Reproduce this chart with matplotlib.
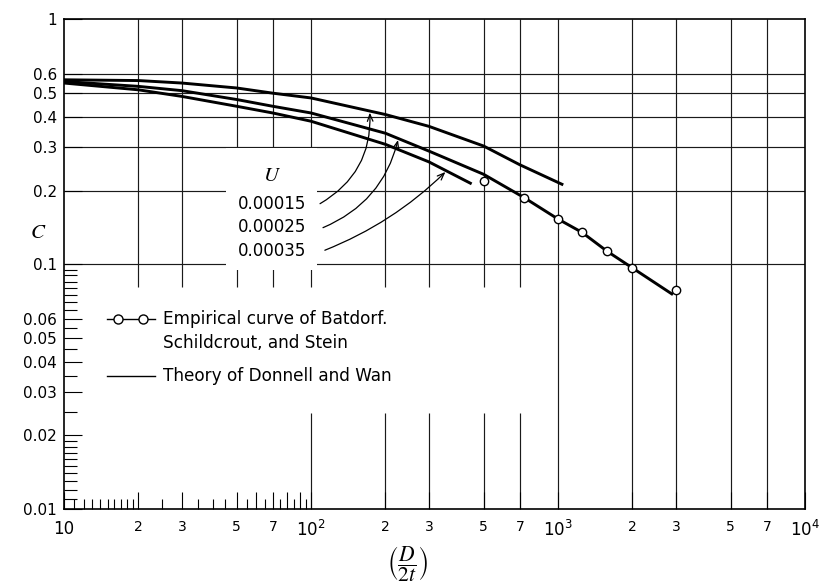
import numpy as np
import matplotlib.pyplot as plt
from matplotlib.patches import Rectangle

plt.rcParams['font.family'] = 'DejaVu Sans'
plt.rcParams['mathtext.fontset'] = 'stix'

# Donnell and Wan theory, C against D/2t for three values of U
x_u15 = [10, 20, 30, 50, 70, 100, 200, 300, 500, 700, 1050]
c_u15 = [0.567, 0.563, 0.55, 0.525, 0.50, 0.478, 0.409, 0.366, 0.304, 0.255, 0.211]
x_u25 = [10, 20, 30, 50, 70, 100, 200, 300, 500, 730]
c_u25 = [0.558, 0.533, 0.512, 0.471, 0.442, 0.415, 0.343, 0.29, 0.233, 0.187]
x_u35 = [10, 20, 30, 50, 70, 100, 200, 300, 447]
c_u35 = [0.55, 0.516, 0.485, 0.442, 0.415, 0.384, 0.309, 0.262, 0.213]
u_labels = ['0.00015', '0.00025', '0.00035']
arrow_x = [173, 225, 350]   # where each U arrow meets its curve

# Batdorf, Schildcrout and Stein empirical points + faired line
emp_x = [500, 730, 1000, 1250, 1580, 2000, 3000]
emp_c = [0.219, 0.187, 0.153, 0.135, 0.113, 0.0966, 0.0782]
emp_line_x = [730, 1000, 1250, 1580, 2000, 2920]
emp_line_c = [0.187, 0.153, 0.135, 0.113, 0.0966, 0.0751]

# axis ticks / grid
xticks = [10, 20, 30, 50, 60, 70, 80, 90, 100, 200, 300, 500, 700,
          1000, 2000, 3000, 5000, 7000, 10000]
xticklabels = ['10', '2', '3', '5', '', '7', '', '', r'$\mathregular{10^2}$',
               '2', '3', '5', '7', r'$\mathregular{10^3}$', '2', '3', '5', '7',
               r'$\mathregular{10^4}$']
xminor = [11, 12, 13, 14, 15, 16, 17, 18, 19, 25, 35, 40, 45, 55, 65, 75, 85, 95]
yticks = [0.01, 0.02, 0.03, 0.04, 0.05, 0.06, 0.1, 0.2, 0.3, 0.4, 0.5, 0.6, 1]
yticklabels = ['0.01', '0.02', '0.03', '0.04', '0.05', '0.06', '0.1', '0.2',
               '0.3', '0.4', '0.5', '0.6', '1']
yminor = [0.011, 0.012, 0.013, 0.014, 0.015, 0.016, 0.017, 0.018, 0.019,
          0.025, 0.035, 0.045, 0.055, 0.065, 0.07, 0.075, 0.08, 0.085, 0.09, 0.095]
hgrid = [0.1, 0.2, 0.3, 0.4, 0.5, 0.6]
vgrid_upper = [20, 30, 50, 70, 100, 200, 300, 500, 700]
vgrid_lower = [100, 200, 300, 500, 700]
vgrid_full = [1000, 2000, 3000, 5000, 7000]


def log_interp(x, xs, ys):
    return 10 ** np.interp(np.log10(x), np.log10(xs), np.log10(ys))


def main():
    fig = plt.figure(figsize=(8.26, 5.87), dpi=100)
    ax = fig.add_axes([0.0775, 0.1329, 0.8971, 0.8339])
    ax.set_xscale('log')
    ax.set_yscale('log')
    ax.set_xlim(10, 10000)
    ax.set_ylim(0.01, 1)

    gkw = dict(color='#1a1a1a', lw=0.85, zorder=1)
    ax.hlines(hgrid, 10, 10000, **gkw)
    ax.vlines(vgrid_upper, 0.081, 1, **gkw)
    ax.vlines(vgrid_lower, 0.01, 0.0247, **gkw)
    ax.vlines(vgrid_full, 0.01, 1, **gkw)
    # clear patch of grid behind the U labels
    ax.add_patch(Rectangle((0.2186, 0.4883), 0.1228, 0.2492, transform=ax.transAxes,
                           facecolor='white', edgecolor='none', zorder=1.5))

    lkw = dict(color='black', lw=2.1, solid_capstyle='butt', zorder=3)
    curves = [(x_u15, c_u15), (x_u25, c_u25), (x_u35, c_u35)]
    for xs, cs in curves:
        ax.plot(xs, cs, **lkw)
    ax.plot(emp_line_x, emp_line_c, **lkw)
    ax.plot(emp_x, emp_c, 'o', ms=6, mfc='white', mec='black', mew=1, zorder=4)

    # U labels and arrows
    ax.text(0.2807, 0.6823, '$U$', transform=ax.transAxes, ha='center', va='center',
            fontsize=15)
    label_y = [0.6231, 0.5751, 0.5271]
    tails = [(0.3455, 0.6237), (0.3495, 0.5747), (0.352, 0.5286)]
    rads = [0.3, 0.25, 0.1]
    for lab, ly, (xs, cs), xa, tail, rad in zip(u_labels, label_y, curves, arrow_x, tails, rads):
        ax.text(0.2807, ly, lab, transform=ax.transAxes, ha='center', va='center',
                fontsize=12)
        ax.annotate('', xy=(xa, log_interp(xa, xs, cs) * 0.985), xycoords='data',
                    xytext=tail, textcoords='axes fraction',
                    arrowprops=dict(arrowstyle='->,head_length=0.5,head_width=0.2',
                                    connectionstyle=f'arc3,rad={rad}', lw=0.9,
                                    color='black', shrinkA=0, shrinkB=0),
                    zorder=5)

    # key
    ax.plot([0.058, 0.123], [0.388, 0.388], color='black', lw=1, transform=ax.transAxes)
    ax.plot([0.0729, 0.1066], [0.388, 0.388], 'o', ms=6.5, mfc='white', mec='black',
            mew=1, transform=ax.transAxes)
    ax.plot([0.058, 0.123], [0.2717, 0.2717], color='black', lw=1, transform=ax.transAxes)
    ax.text(0.1336, 0.388, 'Empirical curve of Batdorf.', transform=ax.transAxes,
            va='center', fontsize=12.2)
    ax.text(0.1336, 0.339, 'Schildcrout, and Stein', transform=ax.transAxes,
            va='center', fontsize=12.2)
    ax.text(0.1336, 0.2717, 'Theory of Donnell and Wan', transform=ax.transAxes,
            va='center', fontsize=12.2)

    ax.set_xticks(xticks, xticklabels)
    ax.set_xticks(xminor, minor=True)
    ax.xaxis.set_minor_formatter(plt.NullFormatter())
    ax.set_yticks(yticks, yticklabels)
    ax.set_yticks(yminor, minor=True)
    ax.yaxis.set_minor_formatter(plt.NullFormatter())
    ax.tick_params(axis='x', which='major', direction='in', length=12, width=0.8, pad=8)
    ax.tick_params(axis='x', which='minor', direction='in', length=7.5, width=0.8)
    ax.tick_params(axis='y', which='major', direction='in', length=13, width=0.8,
                   pad=5, labelsize=11)
    ax.tick_params(axis='y', which='minor', direction='in', length=9, width=0.8)
    for lab in ax.get_xticklabels():
        t = lab.get_text()
        lab.set_fontsize(12 if t.startswith('10') or 'mathregular' in t else 10)
    for sp in ax.spines.values():
        sp.set_linewidth(1.2)

    ax.set_xlabel(r'$\left(\dfrac{D}{2t}\right)$', fontsize=15.5)
    ax.xaxis.set_label_coords(0.464, -0.072)
    ax.set_ylabel('$C$', rotation=0, fontsize=15, ha='center', va='center')
    ax.yaxis.set_label_coords(-0.035, 0.566)

    fig.savefig('out.png', dpi=100)


if __name__ == '__main__':
    main()
